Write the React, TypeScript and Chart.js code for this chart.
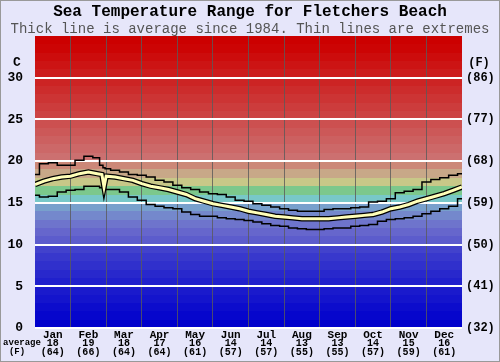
import { useEffect, useRef } from "react";
import { Chart, registerables } from "chart.js";

Chart.register(...registerables);

const months = ["Jan", "Feb", "Mar", "Apr", "May", "Jun", "Jul", "Aug", "Sep", "Oct", "Nov", "Dec"];
const monthAvgC = [18, 19, 18, 17, 16, 14, 14, 13, 13, 14, 15, 16];
const monthAvgF = [64, 66, 64, 64, 61, 57, 57, 55, 55, 57, 59, 61];
const yTicks = [0, 5, 10, 15, 20, 25, 30];
const monthBoundaries = [1, 2, 3, 4, 5, 6, 7, 8, 9, 10, 11];

// position in months from 1 Jan (0) to 31 Dec (12)
const monthPos = [0, 0.25, 0.5, 0.75, 1, 1.25, 1.5, 1.75, 1.88, 1.94, 2, 2.25, 2.5, 2.75, 3, 3.25, 3.5, 3.75, 4, 4.25, 4.5, 4.75, 5, 5.25, 5.5, 5.75, 6, 6.25, 6.5, 6.75, 7, 7.25, 7.5, 7.75, 8, 8.25, 8.5, 8.75, 9, 9.25, 9.5, 9.75, 10, 10.25, 10.5, 10.75, 11, 11.25, 11.5, 11.75, 12];
const maxTemp = [18.4, 19.7, 19.8, 19.5, 19.5, 20.1, 20.6, 20.4, 19.5, 19.2, 19.1, 18.9, 18.7, 18.4, 18.3, 18.1, 17.7, 17.5, 17.1, 16.8, 16.6, 16.3, 16.1, 16.0, 15.7, 15.3, 15.2, 14.9, 14.7, 14.5, 14.3, 14.1, 14.0, 14.0, 14.0, 14.2, 14.3, 14.3, 14.4, 14.5, 15.1, 15.2, 15.5, 16.2, 16.4, 16.6, 17.5, 17.8, 18.0, 18.3, 18.5];
const avgTemp = [17.2, 17.6, 17.9, 18.1, 18.2, 18.5, 18.7, 18.5, 18.4, 16.9, 18.2, 18.1, 17.9, 17.7, 17.3, 17.0, 16.8, 16.6, 16.3, 16.0, 15.5, 15.2, 14.9, 14.7, 14.5, 14.3, 14.0, 13.8, 13.6, 13.4, 13.3, 13.2, 13.1, 13.1, 13.1, 13.1, 13.2, 13.3, 13.4, 13.5, 13.6, 13.9, 14.3, 14.5, 14.8, 15.2, 15.5, 15.8, 16.1, 16.5, 16.9];
const minTemp = [15.9, 15.7, 15.8, 16.3, 16.5, 16.6, 17.0, 17.0, 16.8, 16.6, 16.6, 16.6, 16.3, 15.7, 15.3, 14.8, 14.6, 14.4, 14.3, 13.9, 13.6, 13.4, 13.4, 13.2, 13.1, 13.0, 12.9, 12.7, 12.5, 12.3, 12.2, 12.0, 11.9, 11.8, 11.8, 11.9, 12.0, 12.0, 12.2, 12.3, 12.4, 12.8, 13.0, 13.1, 13.2, 13.4, 13.7, 14.0, 14.3, 14.6, 15.5];

// colour of each 1-degree band, from 0-1 C upwards
const bandColors = [
  "#0000cc", "#0606cc", "#0c0ccc", "#1414cc", "#1a1acc", "#2020cc", "#2828cc", "#3030cc", "#3838cc", "#4242cc",
  "#5c5ccc", "#6666cc", "#6e74cc", "#7488cc", "#78a0cc",
  "#78c8c8", "#7cc88c", "#c8c888", "#c8a888", "#cc8878",
  "#cc7070", "#cc6868", "#cc6060", "#cc5858", "#cc5050", "#cc4444", "#cc3c3c", "#cc3434", "#cc2c2c", "#cc2424",
  "#cc1c1c", "#cc1414", "#cc0c0c", "#cc0404", "#cc0000",
];

const FONT = "'Liberation Mono', 'DejaVu Sans Mono', monospace";

export default function App() {
  const ref = useRef<HTMLCanvasElement>(null);

  useEffect(() => {
    document.body.style.margin = "0";
    const toPts = (arr: number[]) => monthPos.map((x, i) => ({ x, y: arr[i] }));

    const bandsPlugin = {
      id: "bands",
      beforeDraw(chart: any) {
        const { ctx, chartArea: a, scales } = chart;
        const y = scales.y;
        ctx.save();
        ctx.fillStyle = "#e6e6fa";
        ctx.fillRect(0, 0, chart.width, chart.height);
        bandColors.forEach((c, t) => {
          const top = Math.round(y.getPixelForValue(t + 1));
          const bot = Math.round(y.getPixelForValue(t));
          ctx.fillStyle = c;
          ctx.fillRect(a.left, top, a.right - a.left, bot - top);
        });
        ctx.restore();
      },
      afterDraw(chart: any) {
        const { ctx, chartArea: a, scales } = chart;
        const y = scales.y;
        const x = scales.x;
        ctx.save();
        ctx.fillStyle = "#000";
        ctx.textAlign = "center";
        ctx.textBaseline = "middle";
        ctx.font = `bold 13px ${FONT}`;
        ctx.fillText("C", a.left - 18, y.getPixelForValue(31.8));
        ctx.font = `bold 12px ${FONT}`;
        ctx.fillText("(F)", a.right + 17, y.getPixelForValue(31.8));
        ctx.font = `bold 9px ${FONT}`;
        ctx.fillText("average", a.left - 13, a.bottom + 15);
        ctx.fillText("(F)", a.left - 18, a.bottom + 24);
        ctx.font = `bold 10px ${FONT}`;
        months.forEach((_, i) => {
          const px = x.getPixelForValue(i + 0.5);
          ctx.fillText(String(monthAvgC[i]), px, a.bottom + 15);
          ctx.fillText(`(${monthAvgF[i]})`, px, a.bottom + 24);
        });
        ctx.strokeStyle = "#999";
        ctx.lineWidth = 1;
        ctx.strokeRect(0.5, 0.5, chart.width - 1, chart.height - 1);
        ctx.restore();
      },
    };

    const chart = new Chart(ref.current!, {
      type: "line",
      data: {
        datasets: [
          { data: toPts(avgTemp), borderColor: "#ffffb8", borderWidth: 3, pointRadius: 0, order: 0, xAxisID: "x", yAxisID: "y" },
          { data: toPts(avgTemp), borderColor: "#000000", borderWidth: 5.5, pointRadius: 0, order: 1, xAxisID: "x", yAxisID: "y" },
          { data: toPts(maxTemp), borderColor: "#000000", borderWidth: 1.5, pointRadius: 0, stepped: "middle", order: 2, xAxisID: "x", yAxisID: "y" },
          { data: toPts(minTemp), borderColor: "#000000", borderWidth: 1.5, pointRadius: 0, stepped: "middle", order: 2, xAxisID: "x", yAxisID: "y" },
        ] as any,
      },
      options: {
        animation: false,
        responsive: false,
        devicePixelRatio: 1,
        layout: { padding: 0 },
        plugins: {
          legend: { display: false },
          tooltip: { enabled: false },
          title: {
            display: true,
            text: "Sea Temperature Range for Fletchers Beach",
            color: "#000",
            font: { family: FONT, size: 16, weight: "bold", lineHeight: 1 },
            padding: { top: 4, bottom: 0 },
          },
          subtitle: {
            display: true,
            text: "Thick line is average since 1984. Thin lines are extremes",
            color: "#555",
            font: { family: FONT, size: 14, lineHeight: 1 },
            padding: { top: 2, bottom: 0 },
          },
        },
        scales: {
          x: {
            type: "linear",
            position: "bottom",
            min: 0,
            max: 12,
            afterBuildTicks: (s: any) => {
              s.ticks = months.map((_, i) => ({ value: i + 0.5 }));
            },
            afterFit: (s: any) => {
              s.height = 34;
            },
            grid: { display: false },
            border: { display: false },
            ticks: {
              autoSkip: false,
              maxRotation: 0,
              padding: -6,
              color: "#000",
              font: { family: FONT, size: 11, weight: "bold", lineHeight: 1 },
              callback: (_v: any, i: number) => months[i],
            },
          },
          xg: {
            type: "linear",
            position: "top",
            min: 0,
            max: 12,
            afterBuildTicks: (s: any) => {
              s.ticks = monthBoundaries.map((v) => ({ value: v }));
            },
            afterFit: (s: any) => {
              s.height = 0;
            },
            grid: { color: "rgba(90,90,90,0.8)", lineWidth: 1, drawTicks: false },
            border: { display: false },
            ticks: { display: false },
          },
          y: {
            type: "linear",
            position: "left",
            min: 0,
            max: 35,
            afterBuildTicks: (s: any) => {
              s.ticks = yTicks.map((v) => ({ value: v }));
            },
            afterFit: (s: any) => {
              s.width = 35;
            },
            grid: { color: "#ffffff", lineWidth: 2, drawTicks: false },
            border: { display: false },
            ticks: {
              padding: 12,
              color: "#000",
              font: { family: FONT, size: 13, weight: "bold" },
            },
          },
          y2: {
            type: "linear",
            position: "right",
            min: 0,
            max: 35,
            afterBuildTicks: (s: any) => {
              s.ticks = yTicks.map((v) => ({ value: v }));
            },
            afterFit: (s: any) => {
              s.width = 38;
            },
            grid: { display: false, drawTicks: false },
            border: { display: false },
            ticks: {
              padding: 4,
              color: "#000",
              font: { family: FONT, size: 12, weight: "bold" },
              callback: (v: any) => `(${Math.round((Number(v) * 9) / 5 + 32)})`,
            },
          },
        },
      } as any,
      plugins: [bandsPlugin],
    });
    return () => chart.destroy();
  }, []);

  return (
    <div style={{ width: 500, height: 362 }}>
      <canvas ref={ref} width={500} height={362} style={{ display: "block" }} />
    </div>
  );
}
